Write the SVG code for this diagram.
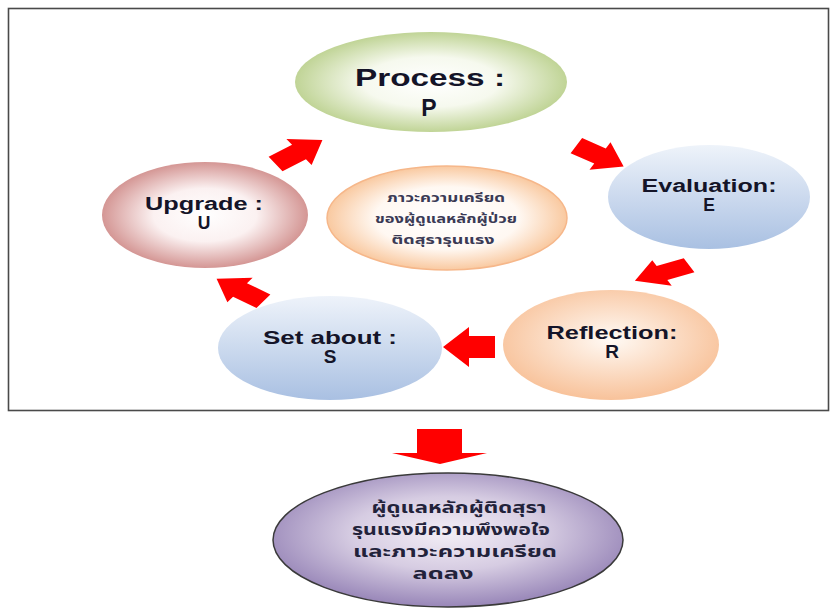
<svg xmlns="http://www.w3.org/2000/svg" width="830" height="609" viewBox="0 0 830 609">
<defs>
<radialGradient id="gP" cx="50%" cy="50%" r="50%"><stop offset="0" stop-color="#ffffff"/><stop offset="0.5" stop-color="#f6f9ee"/><stop offset="1" stop-color="#c0d496"/></radialGradient>
<radialGradient id="gC" cx="50%" cy="50%" r="50%"><stop offset="0" stop-color="#ffffff"/><stop offset="0.6" stop-color="#fff8f2"/><stop offset="1" stop-color="#f9c9a0"/></radialGradient>
<radialGradient id="gU" cx="50%" cy="50%" r="50%"><stop offset="0" stop-color="#ffffff"/><stop offset="0.5" stop-color="#fbf1f1"/><stop offset="1" stop-color="#d49694"/></radialGradient>
<linearGradient id="gB" x1="0" y1="0" x2="0" y2="1"><stop offset="0" stop-color="#eef3fa"/><stop offset="1" stop-color="#a9c0e2"/></linearGradient>
<radialGradient id="gR" cx="50%" cy="45%" r="55%"><stop offset="0" stop-color="#fffaf5"/><stop offset="1" stop-color="#f8c29a"/></radialGradient>
<radialGradient id="gF" cx="50%" cy="45%" r="55%"><stop offset="0" stop-color="#f3eef6"/><stop offset="0.5" stop-color="#d6cce2"/><stop offset="1" stop-color="#9886b8"/></radialGradient>
<path id="arr" d="M-26,-11 H0 V-20 L26,0 L0,20 V11 H-26 Z"/>
</defs>
<style>
.lbl{font-family:"Liberation Sans",Arial,sans-serif;font-weight:bold;fill:#141428;text-anchor:middle}
.th{font-family:"Noto Sans Thai","Noto Sans","DejaVu Sans",sans-serif;font-weight:bold;fill:#3a3a55;text-anchor:middle}
.thb{font-family:"Noto Sans Thai","Noto Sans","DejaVu Sans",sans-serif;font-weight:bold;fill:#22223a;text-anchor:middle}
.red{fill:#ff0000}
</style>
<rect x="8.5" y="8.5" width="820" height="402" fill="#ffffff" stroke="#4a4a4a" stroke-width="1.6"/>
<g id="node-process">
<ellipse cx="431" cy="82" rx="136" ry="50" fill="url(#gP)"/>
<text class="lbl" x="430" y="86" font-size="23" textLength="150" lengthAdjust="spacingAndGlyphs">Process :</text>
<text class="lbl" x="429" y="116" font-size="23">P</text>
</g>
<g id="node-center">
<ellipse cx="447" cy="218" rx="120" ry="52" fill="url(#gC)" stroke="#f6b78a" stroke-width="1.5"/>
<text class="th" x="446" y="202" font-size="13" textLength="118" lengthAdjust="spacingAndGlyphs">ภาวะความเครียด</text>
<text class="th" x="446" y="223" font-size="13" textLength="142" lengthAdjust="spacingAndGlyphs">ของผู้ดูแลหลักผู้ป่วย</text>
<text class="th" x="443" y="244" font-size="13" textLength="103" lengthAdjust="spacingAndGlyphs">ติดสุรารุนแรง</text>
</g>
<g id="node-upgrade">
<ellipse cx="205" cy="215" rx="103" ry="53" fill="url(#gU)"/>
<text class="lbl" x="204" y="210" font-size="17.5" textLength="118" lengthAdjust="spacingAndGlyphs">Upgrade :</text>
<text class="lbl" x="204" y="229" font-size="17.5">U</text>
</g>
<g id="node-evaluation">
<ellipse cx="709" cy="197" rx="101" ry="52" fill="url(#gB)"/>
<text class="lbl" x="709" y="192" font-size="17.5" textLength="135" lengthAdjust="spacingAndGlyphs">Evaluation:</text>
<text class="lbl" x="709" y="211" font-size="17.5">E</text>
</g>
<g id="node-reflection">
<ellipse cx="611" cy="345" rx="108" ry="55" fill="url(#gR)"/>
<text class="lbl" x="612" y="339" font-size="19" textLength="131" lengthAdjust="spacingAndGlyphs">Reflection:</text>
<text class="lbl" x="612" y="358" font-size="19">R</text>
</g>
<g id="node-setabout">
<ellipse cx="330" cy="348" rx="112" ry="52" fill="url(#gB)"/>
<text class="lbl" x="330" y="344" font-size="19" textLength="134" lengthAdjust="spacingAndGlyphs">Set about :</text>
<text class="lbl" x="330" y="363" font-size="19">S</text>
</g>
<g id="node-result">
<ellipse cx="448" cy="540" rx="175" ry="67" fill="url(#gF)" stroke="#3a3a3a" stroke-width="1.5"/>
<text class="thb" x="459" y="513" font-size="15" textLength="175" lengthAdjust="spacingAndGlyphs">ผู้ดูแลหลักผู้ติดสุรา</text>
<text class="thb" x="451" y="535" font-size="15" textLength="198" lengthAdjust="spacingAndGlyphs">รุนแรงมีความพึงพอใจ</text>
<text class="thb" x="455" y="557" font-size="15" textLength="204" lengthAdjust="spacingAndGlyphs">และภาวะความเครียด</text>
<text class="thb" x="443" y="579" font-size="15" textLength="61" lengthAdjust="spacingAndGlyphs">ลดลง</text>
</g>
<g id="connectors">
<use href="#arr" class="red" transform="translate(299,152) scale(1.1,0.8) rotate(-35)"/>
<use href="#arr" class="red" transform="translate(600,156) scale(1.05,0.8) rotate(30)"/>
<use href="#arr" class="red" transform="translate(662,273) scale(1.15,0.7) rotate(155)"/>
<use href="#arr" class="red" transform="translate(469,347) rotate(180)"/>
<use href="#arr" class="red" transform="translate(240,290) scale(1.1,0.75) rotate(-145)"/>
<path class="red" d="M417,429 H462 V453 H487 L440,464 L392,453 H417 Z"/>
</g>
</svg>
